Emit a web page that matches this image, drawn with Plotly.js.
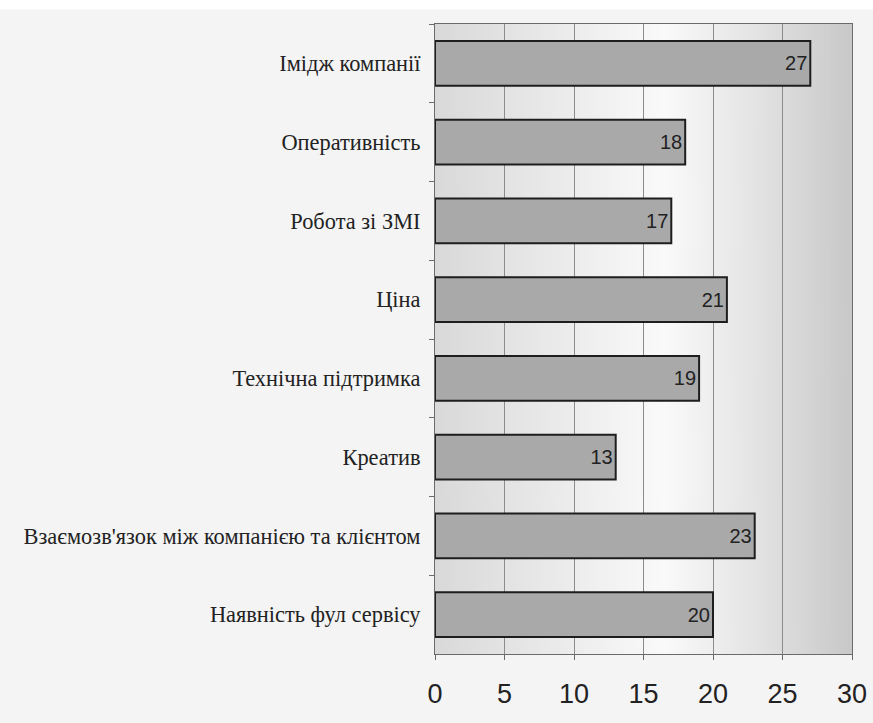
<!DOCTYPE html>
<html>
<head>
<meta charset="utf-8">
<script src="https://cdn.plot.ly/plotly-3.0.1.min.js"></script>
<style>
html,body{margin:0;padding:0;background:#ffffff;}
#chart{width:873px;height:723px;}
</style>
</head>
<body>
<div id="chart"></div>
<script>
const categories = [
  "Імідж компанії",
  "Оперативність",
  "Робота зі ЗМІ",
  "Ціна",
  "Технічна підтримка",
  "Креатив",
  "Взаємозв'язок між компанією та клієнтом",
  "Наявність фул сервісу"
];
const values = [27, 18, 17, 21, 19, 13, 23, 20];
const xTicks = [0, 5, 10, 15, 20, 25, 30];

// gradient background image for plot area (style only)
const cv = document.createElement('canvas');
cv.width = 400; cv.height = 10;
const cx = cv.getContext('2d');
const g = cx.createLinearGradient(0, 0, 400, 0);
g.addColorStop(0, '#d9d9d9');
g.addColorStop(0.3, '#ebebeb');
g.addColorStop(0.55, '#fafafa');
g.addColorStop(0.75, '#e6e6e6');
g.addColorStop(1, '#c8c8c8');
cx.fillStyle = g; cx.fillRect(0, 0, 400, 10);
const bg = cv.toDataURL();

const trace = {
  type: 'bar',
  orientation: 'h',
  y: categories,
  x: values,
  text: values.map(String),
  textposition: 'inside',
  insidetextanchor: 'end',
  textfont: {family: 'Liberation Sans, Arial, sans-serif', size: 20, color: '#222'},
  marker: {color: '#a9a9a9', line: {color: '#1e1e1e', width: 2}},
  width: 0.57,
  hoverinfo: 'none'
};

const layout = {
  width: 873, height: 723,
  margin: {l: 435, r: 21, t: 24, b: 69},
  paper_bgcolor: '#f4f4f4',
  plot_bgcolor: 'rgba(0,0,0,0)',
  showlegend: false,
  xaxis: {
    range: [0, 30],
    tickvals: xTicks,
    ticktext: xTicks.map(String),
    showgrid: true, gridcolor: '#8c8c8c', gridwidth: 1,
    zeroline: false,
    showline: true, linecolor: '#6a6a6a', linewidth: 1, mirror: true,
    ticks: 'outside', ticklen: 5, tickcolor: '#6a6a6a',
    ticklabelstandoff: 11,
    tickfont: {family: 'Liberation Sans, Arial, sans-serif', size: 27, color: '#222'},
    fixedrange: true
  },
  yaxis: {
    type: 'category',
    autorange: 'reversed',
    showgrid: false, zeroline: false,
    showline: true, linecolor: '#6a6a6a', linewidth: 1, mirror: true,
    ticks: 'outside', ticklen: 5, tickcolor: '#6a6a6a',
    tickson: 'boundaries',
    ticklabelstandoff: 9,
    tickfont: {family: 'Liberation Serif, Times New Roman, serif', size: 22.4, color: '#222'},
    fixedrange: true
  },
  images: [{
    source: bg, xref: 'paper', yref: 'paper',
    x: 0, y: 1, sizex: 1, sizey: 1,
    sizing: 'stretch', layer: 'below'
  }],
  shapes: [{
    type: 'rect', xref: 'paper', yref: 'paper',
    x0: -1.1, x1: 1.1, y0: 1.0235, y1: 1.06,
    fillcolor: '#ffffff', line: {width: 0}, layer: 'below'
  }]
};

Plotly.newPlot('chart', [trace], layout, {displayModeBar: false, staticPlot: true});
</script>
</body>
</html>
